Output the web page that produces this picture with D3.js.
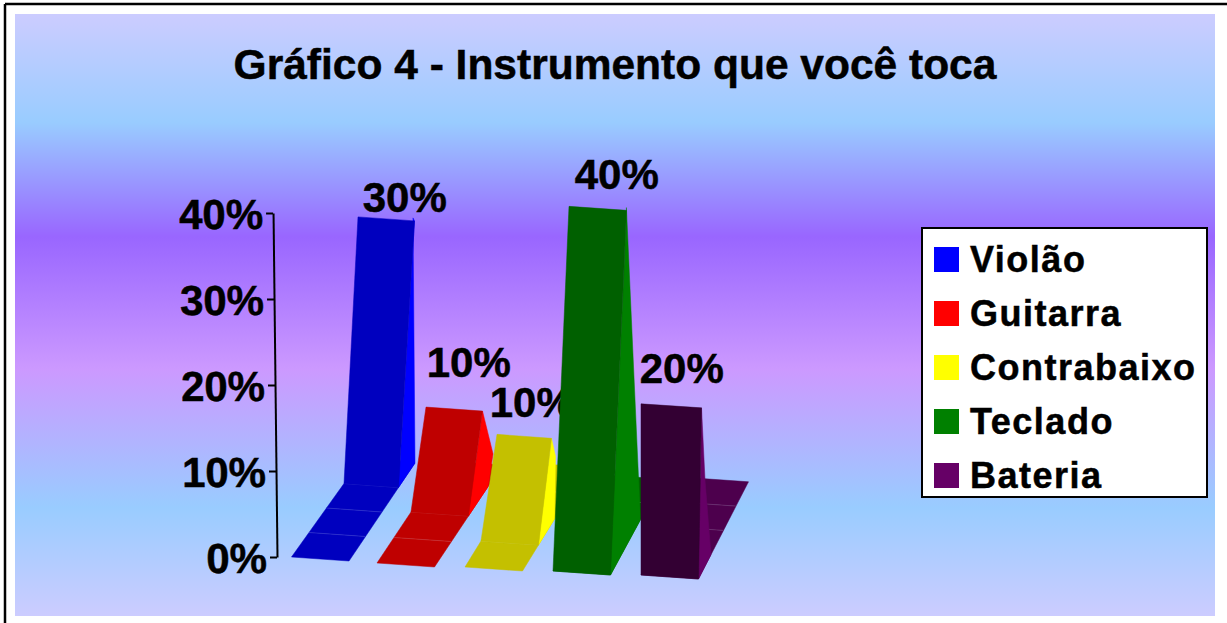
<!DOCTYPE html>
<html>
<head>
<meta charset="utf-8">
<script src="https://cdn.jsdelivr.net/npm/d3@7/dist/d3.min.js"></script>
<style>
html, body { margin: 0; padding: 0; background: #fff; overflow: hidden; }
text { font-family: "Liberation Sans", Arial, sans-serif; font-weight: bold; fill: #000; stroke: #000; stroke-width: 0.5px; }
</style>
</head>
<body>
<svg id="chart" width="1227" height="623"></svg>
<script>
// chart data
var titleText = "Gráfico 4 - Instrumento que você toca";
var categories = ["Violão", "Guitarra", "Contrabaixo", "Teclado", "Bateria"];
var values = [30, 10, 10, 40, 20];
var yTicks = [0, 10, 20, 30, 40];
var depthRows = [3, 2, 1, 0, 0];

// bar heights as they are drawn (front and rear edge)
var frontHeights = [31, 12.2, 12.4, 42.4, 19.9];
var rearHeights = [28.5, 3.8, 7.3, 36.3, 8.7];

// colours
var sideCols = ["#0000ff", "#ff0000", "#ffff00", "#008000", "#660066"];
var frontCols = ["#0000bf", "#bf0000", "#c4c000", "#006000", "#330033"];
var floorCols = ["#0000bf", "#bf0000", "#c4c000", "#006000", "#4d004d"];

var NUM_ROWS = 4;
var BAR_WID = 57.5;

var svg = d3.select("#chart");

// background, the frame only shows on the top and left
svg.append("line").attr("x1", 5).attr("y1", 4).attr("x2", 1227).attr("y2", 4)
    .attr("stroke", "#000").attr("stroke-width", 2.5);
svg.append("line").attr("x1", 5).attr("y1", 4).attr("x2", 5).attr("y2", 623)
    .attr("stroke", "#000").attr("stroke-width", 2.5);

var grad = svg.append("defs").append("linearGradient")
    .attr("id", "bgGrad").attr("x1", 0).attr("y1", 0).attr("x2", 0).attr("y2", 1);
[[0, "#ccccff"], [0.18, "#99ccff"], [0.37, "#9966ff"], [0.59, "#cc99ff"], [0.82, "#99ccff"], [1, "#ccccff"]]
    .forEach(function(s) {
        grad.append("stop").attr("offset", s[0]).attr("stop-color", s[1]);
    });
svg.append("rect").attr("x", 15).attr("y", 14).attr("width", 1200).attr("height", 602)
    .attr("fill", "url(#bgGrad)");

svg.append("text")
    .attr("x", 615).attr("y", 79)
    .attr("text-anchor", "middle")
    .style("font-size", "42.5px")
    .text(titleText);

// scales. the picture is a rough perspective so most of them go per series
var floorX = d3.scaleOrdinal().domain(categories).range([291.5, 377, 465, 553, 641]);
var floorY = d3.scaleOrdinal().domain(categories).range([557, 563, 567, 571, 575]);
var rowDx = d3.scaleOrdinal().domain(categories).range([17.5, 17, 16, 13, 12.5]);
var rowDy = d3.scaleOrdinal().domain(categories).range([24.5, 25.5, 26, 24, 24.3]);
var taper = d3.scaleOrdinal().domain(categories).range([1, 0, 0, 0, 0]);
var barDepth = d3.scaleOrdinal().domain(categories).range([1, 1.15, 1, 2.3, 1]);
var leanLeft = d3.scaleOrdinal().domain(categories).range([14, 15, 16, 16, 0]);
var leanRight = d3.scaleOrdinal().domain(categories).range([16, 14, 13, 16, 3]);
var leanRear = d3.scaleOrdinal().domain(categories).range([-2, 5, 1, -14, -6]);
var labelDx = d3.scaleOrdinal().domain(categories).range([18, 14, 6, 19, 12]);
var labelDy = d3.scaleOrdinal().domain(categories).range([5, 30, 17, 17, 21]);

var yAxisScale = d3.scaleLinear().domain([0, 40]).range([0, -344]);
var heightScale = d3.scaleLinear().domain([0, 40]).range([0, 344]);

function leftPt(cat, d) {
    return [floorX(cat) + rowDx(cat) * d, floorY(cat) - rowDy(cat) * d];
}

function rightPt(cat, d) {
    return [floorX(cat) + BAR_WID + (rowDx(cat) - taper(cat)) * d,
            floorY(cat) + 4 - rowDy(cat) * d];
}

function up(p, dx, h) {
    return [p[0] + dx, p[1] - heightScale(h)];
}

function poly(parent, pts, col) {
    parent.append("polygon")
        .attr("points", pts.map(function(p) { return p.join(","); }).join(" "))
        .attr("fill", col)
        .attr("stroke", col)
        .attr("stroke-width", 0.5);
}

// y axis, slightly slanted like the original
var yAxis = d3.axisLeft(yAxisScale)
    .tickValues(yTicks)
    .tickFormat(function(d) { return d + "%"; })
    .tickSize(7)
    .tickSizeOuter(0)
    .tickPadding(3);

var axisG = svg.append("g")
    .attr("transform", "translate(277,557) skewX(0.66)")
    .call(yAxis);
axisG.selectAll("text").style("font-size", "42px").attr("dy", "0.37em").style("fill", "#000");
axisG.selectAll("line").attr("stroke", "#000").attr("stroke-width", 2);
axisG.select(".domain").attr("stroke", "#000").attr("stroke-width", 2);

// bars, back to front in series order so later ones cover earlier labels
categories.forEach(function(cat, i) {
    var g = svg.append("g").attr("class", "series");
    var row = depthRows[i];

    d3.range(NUM_ROWS).forEach(function(d) {
        poly(g, [leftPt(cat, d), rightPt(cat, d), rightPt(cat, d + 1), leftPt(cat, d + 1)], floorCols[i]);
    });
    // faint seams between the floor cells
    d3.range(1, NUM_ROWS).forEach(function(d) {
        var a = leftPt(cat, d), b = rightPt(cat, d);
        g.append("line")
            .attr("x1", a[0]).attr("y1", a[1]).attr("x2", b[0]).attr("y2", b[1])
            .attr("stroke", "#fff").attr("stroke-opacity", 0.2).attr("stroke-width", 0.7);
    });

    var bl = leftPt(cat, row), br = rightPt(cat, row);
    var rb = rightPt(cat, row + barDepth(cat));
    var tl = up(bl, leanLeft(cat), frontHeights[i]);
    var tr = up(br, leanRight(cat), frontHeights[i]);
    var rt = up(rb, leanRear(cat), rearHeights[i]);

    poly(g, [tr, rt, rb, br], sideCols[i]);
    poly(g, [bl, br, tr, tl], frontCols[i]);

    g.append("text")
        .attr("x", tl[0] + BAR_WID / 2 + labelDx(cat))
        .attr("y", tl[1] - labelDy(cat))
        .attr("text-anchor", "middle")
        .style("font-size", "42px")
        .text(values[i] + "%");
});

// legend
var legendY = d3.scaleBand().domain(categories).range([234, 504]);

svg.append("rect")
    .attr("x", 922).attr("y", 228).attr("width", 285).attr("height", 269)
    .attr("fill", "#fff").attr("stroke", "#000").attr("stroke-width", 2);

var legendItem = svg.selectAll(".legendItem")
    .data(categories)
    .enter()
    .append("g")
    .attr("class", "legendItem")
    .attr("transform", function(d) { return "translate(0," + legendY(d) + ")"; });

legendItem.append("rect")
    .attr("x", 934).attr("y", 13).attr("width", 25).attr("height", 25)
    .attr("fill", function(d, i) { return sideCols[i]; });

legendItem.append("text")
    .attr("x", 970).attr("y", 38)
    .style("font-size", "36px")
    .style("letter-spacing", "1.5px")
    .text(function(d) { return d; });
</script>
</body>
</html>
